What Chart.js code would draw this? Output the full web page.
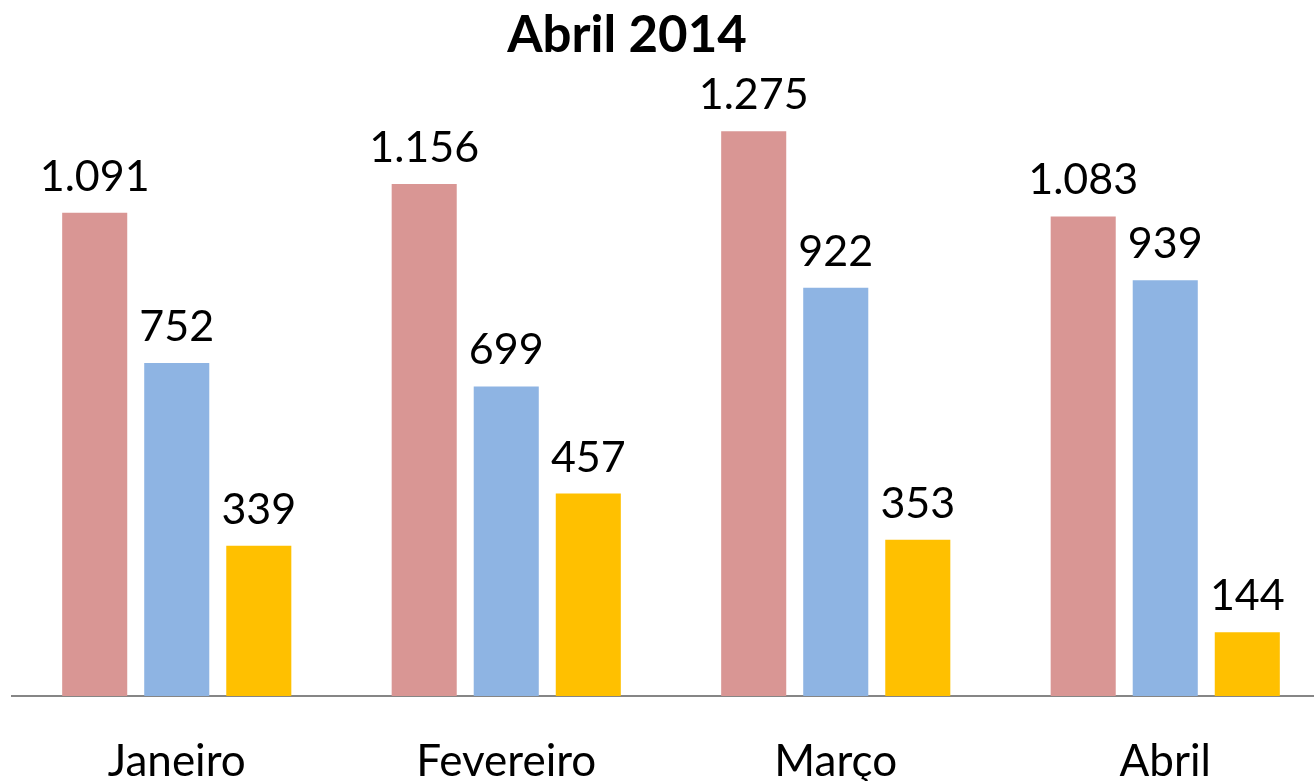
<!DOCTYPE html>
<html>
<head>
<meta charset="utf-8">
<script src="https://cdn.jsdelivr.net/npm/chart.js@4/dist/chart.umd.min.js"></script>
<style>
  html, body { margin: 0; padding: 0; background: #fff; overflow: hidden; }
  #wrap { position: relative; width: 1330px; height: 781px; }
</style>
</head>
<body>
<div id="wrap"><canvas id="chart"></canvas></div>
<script>
const months = ['Janeiro', 'Fevereiro', 'Março', 'Abril'];
const seriesA = [1091, 1156, 1275, 1083];
const seriesB = [752, 699, 922, 939];
const seriesC = [339, 457, 353, 144];
const title = 'Abril 2014';

// pt-BR style thousands separator
function fmt(v) {
    return String(v).replace(/\B(?=(\d{3})+(?!\d))/g, '.');
}

const labelPlugin = {
    id: 'barLabels',
    afterDatasetsDraw(chart) {
        const ctx = chart.ctx;
        ctx.save();
        ctx.fillStyle = '#000';
        ctx.textAlign = 'center';
        ctx.textBaseline = 'alphabetic';
        ctx.font = '43px Lato';
        chart.data.datasets.forEach((ds, i) => {
            chart.getDatasetMeta(i).data.forEach((bar, j) => {
                ctx.fillText(fmt(ds.data[j]), bar.x, bar.y - 22);
            });
        });
        // title
        ctx.font = 'bold 51px Lato';
        ctx.textBaseline = 'middle';
        ctx.fillText(title, 627, 36);
        ctx.restore();
    }
};

const ctx = document.getElementById('chart').getContext('2d');
new Chart(ctx, {
    type: 'bar',
    data: {
        labels: months,
        datasets: [{
            data: seriesA,
            backgroundColor: '#d99694'
        }, {
            data: seriesB,
            backgroundColor: '#8eb4e3'
        }, {
            data: seriesC,
            backgroundColor: '#ffc000'
        }]
    },
    options: {
        responsive: true,
        maintainAspectRatio: false,
        animation: false,
        categoryPercentage: 0.747,
        barPercentage: 0.793,
        layout: {
            padding: { left: 12, right: 0, top: 76, bottom: 0 }
        },
        plugins: {
            legend: { display: false },
            tooltip: { enabled: false }
        },
        scales: {
            x: {
                grid: { display: false, drawTicks: false },
                border: { display: true, color: '#868686', width: 2 },
                ticks: {
                    color: '#000',
                    font: { family: 'Lato', size: 44 },
                    padding: 39
                },
                afterFit(scale) {
                    scale.height = 85;
                }
            },
            y: {
                display: false,
                min: 0,
                max: 1400
            }
        }
    },
    plugins: [labelPlugin]
});
</script>
</body>
</html>
